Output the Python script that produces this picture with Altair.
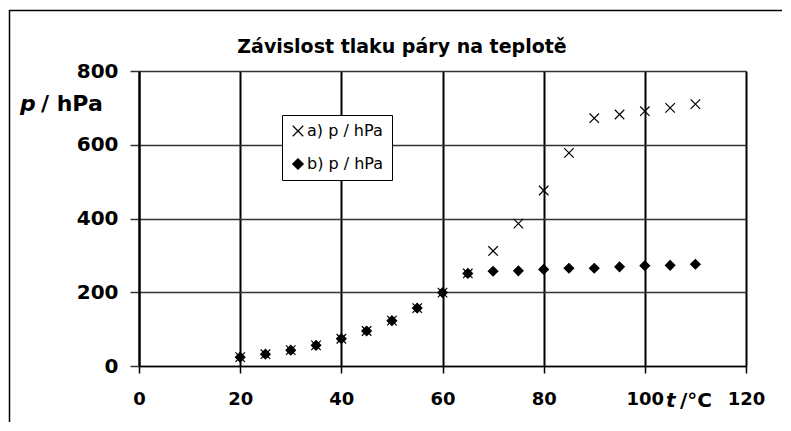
import altair as alt
import pandas as pd

# ---- data ----
t_values = [20, 25, 30, 35, 40, 45, 50, 55, 60, 65, 70, 75, 80, 85, 90, 95, 100, 105, 110]
p_a = [24, 32, 43, 56, 74, 95, 123, 157, 199, 251, 312, 386, 476, 578, 672, 682, 691, 700, 710]
p_b = [24, 32, 43, 56, 74, 95, 123, 157, 199, 251, 257, 258, 262, 265, 265, 269, 272, 273, 276]
series_labels = ["a) p / hPa", "b) p / hPa"]
x_ticks = [0, 20, 40, 60, 80, 100, 120]
y_ticks = [0, 200, 400, 600, 800]
title_text = "Závislost tlaku páry na teplotě"
y_title_var = "p"
y_title_unit = "/ hPa"
x_title_var = "t"
x_title_unit = "/°C"

df = pd.DataFrame({
    "t": t_values + t_values,
    "p": p_a + p_b,
    "series": [series_labels[0]] * len(t_values) + [series_labels[1]] * len(t_values),
})
one = pd.DataFrame({"k": [0]})

X_PATH = "M-1,-1L1,1M1,-1L-1,1"
FONT = "DejaVu Sans"

x_axis = alt.Axis(
    values=x_ticks, title=None, grid=True, gridColor="black", gridWidth=2,
    domainColor="black", domainWidth=1.5, tickColor="black", tickWidth=1.5, tickSize=7,
    labelFont=FONT, labelFontSize=18, labelFontWeight="bold", labelColor="black",
    labelPadding=17, labelFlush=False, labelOverlap=False,
)
y_axis = alt.Axis(
    values=y_ticks, title=None, grid=True, gridColor="#333333", gridWidth=1.5,
    domainColor="black", domainWidth=2, tickColor="#333333", tickWidth=1.5, tickSize=9,
    labelFont=FONT, labelFontSize=20, labelFontWeight="bold", labelColor="black",
    labelPadding=12, labelOverlap=False,
)

legend_spec = alt.Legend(
    title=None, orient="none", legendX=143, legendY=44,
    fillColor="white", strokeColor="black", padding=8,
    labelFont=FONT, labelFontSize=16, labelColor="black", labelOffset=1,
    symbolSize=110, symbolStrokeWidth=1.2, rowPadding=17,
)
series_scale_dom = alt.Scale(domain=series_labels, range=["black", "black"])

points = alt.Chart(df).mark_point(
    filled=True, strokeWidth=1.2, size=90, opacity=1
).encode(
    x=alt.X("t:Q", scale=alt.Scale(domain=[0, 120], nice=False, zero=False), axis=x_axis),
    y=alt.Y("p:Q", scale=alt.Scale(domain=[0, 800], nice=False), axis=y_axis),
    shape=alt.Shape(
        "series:N",
        scale=alt.Scale(domain=series_labels, range=[X_PATH, "diamond"]),
        legend=legend_spec,
    ),
    fill=alt.Fill("series:N", scale=series_scale_dom, legend=legend_spec),
    stroke=alt.Stroke("series:N", scale=alt.Scale(domain=series_labels, range=["black", "black"]),
                      legend=legend_spec),
    order=alt.Order("series:N"),
)

frame_left = alt.Chart(one).mark_rule(color="black", strokeWidth=1.5).encode(
    x=alt.value(-129.5), y=alt.value(-61), y2=alt.value(360)
)
frame_top = alt.Chart(one).mark_rule(color="black", strokeWidth=1.5).encode(
    x=alt.value(-130), x2=alt.value(660), y=alt.value(-60.5)
)

title_mark = alt.Chart(one).mark_text(
    text=title_text, font=FONT, fontSize=19, fontWeight="bold",
    align="center", baseline="alphabetic", color="black"
).encode(x=alt.value(402 - 139), y=alt.value(53 - 71))

y_t1 = alt.Chart(one).mark_text(
    text=y_title_var, font=FONT, fontSize=22, fontWeight="bold", fontStyle="italic",
    align="left", baseline="alphabetic", color="black"
).encode(x=alt.value(20 - 139), y=alt.value(111 - 71))
y_t2 = alt.Chart(one).mark_text(
    text=y_title_unit, font=FONT, fontSize=22, fontWeight="bold",
    align="left", baseline="alphabetic", color="black"
).encode(x=alt.value(41 - 139), y=alt.value(111 - 71))
x_t1 = alt.Chart(one).mark_text(
    text=x_title_var, font=FONT, fontSize=20, fontWeight="bold", fontStyle="italic",
    align="left", baseline="alphabetic", color="black"
).encode(x=alt.value(666 - 139), y=alt.value(407 - 71))
x_t2 = alt.Chart(one).mark_text(
    text=x_title_unit, font=FONT, fontSize=20, fontWeight="bold",
    align="left", baseline="alphabetic", color="black"
).encode(x=alt.value(680 - 139), y=alt.value(407 - 71))

chart = alt.layer(frame_left, frame_top, points, title_mark, y_t1, y_t2, x_t1, x_t2).properties(
    width=607,
    height=295,
    padding={"left": 131, "top": 63, "right": 36, "bottom": 56},
    autosize=alt.AutoSizeParams(type="none"),
).configure_view(stroke="transparent").configure(background="white")

chart.save("out.html", embed_options={"renderer": "svg", "actions": False})
